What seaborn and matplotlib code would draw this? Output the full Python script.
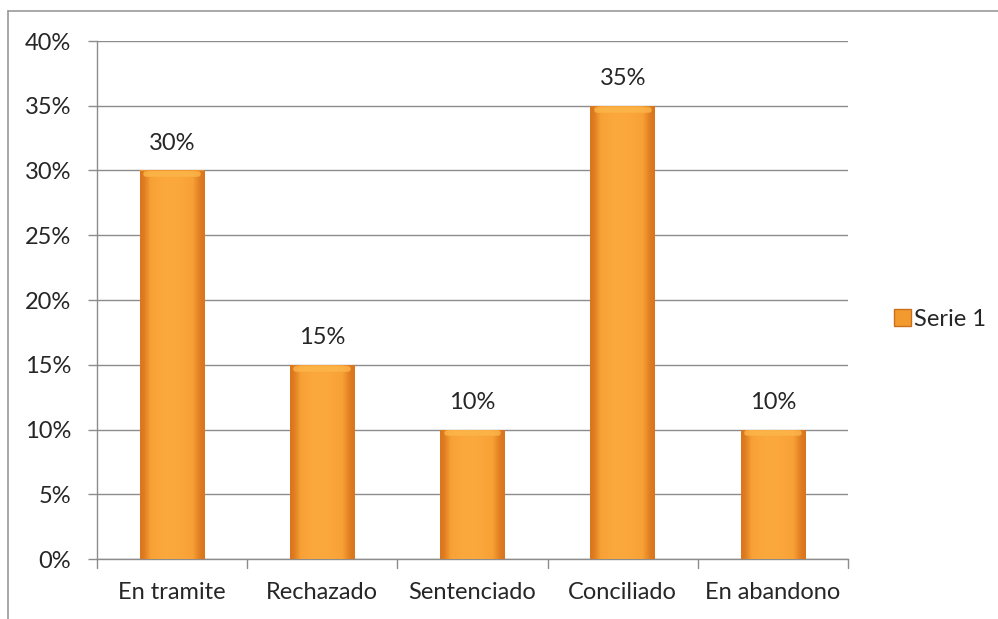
import numpy as np
import pandas as pd
import matplotlib
matplotlib.use("Agg")
import matplotlib.pyplot as plt
import seaborn as sns
from matplotlib.lines import Line2D
from matplotlib.patches import Patch
from matplotlib.colors import LinearSegmentedColormap

categories = ["En tramite", "Rechazado", "Sentenciado", "Conciliado", "En abandono"]
values = [30, 15, 10, 35, 10]
series_name = "Serie 1"
yticks = [0, 5, 10, 15, 20, 25, 30, 35, 40]

sns.set_style("white")
plt.rcParams["font.family"] = ["Lato", "DejaVu Sans"]
FS = 17

df = pd.DataFrame({"cat": categories, "val": values})

fig = plt.figure(figsize=(9.98, 6.19), dpi=100)
ax = fig.add_axes([97/998, 1-559/619, (848-97)/998, (559-41)/619])

sns.barplot(data=df, x="cat", y="val", color="#F39A2E", width=0.43,
            saturation=1, ax=ax, edgecolor="none", zorder=3)

# horizontal gradient inside bars
grad = np.array([[0.0, 0.55, 0.85, 1.0, 1.0, 0.9, 0.75, 0.45, 0.0]])
cmap = LinearSegmentedColormap.from_list("o", ["#D9741C", "#F7A035", "#FBA83C"])
for p in ax.patches:
    x0, y0 = p.get_x(), p.get_y()
    w, h = p.get_width(), p.get_height()
    im = ax.imshow(grad, extent=[x0, x0 + w, y0, y0 + h], aspect="auto",
                   cmap=cmap, vmin=0, vmax=1, zorder=4, interpolation="bicubic")
    im.set_clip_path(p)
    ax.plot([x0 + w*0.1, x0 + w*0.9], [y0 + h - 0.3, y0 + h - 0.3],
            color="#FCB64A", lw=4, zorder=5, solid_capstyle="round", alpha=0.8)

ax.set_xlim(-0.5, len(categories) - 0.5)
ax.set_ylim(0, 40)
ax.set_yticks(yticks)
ax.set_yticklabels([f"{t}%" for t in yticks], fontsize=FS)
ax.set_xticks(range(len(categories)))
ax.set_xticklabels(categories, fontsize=FS)
ax.set_xlabel("")
ax.set_ylabel("")
ax.yaxis.grid(True, color="#8C8C8C", lw=1)
ax.set_axisbelow(True)
for s in ["top", "right"]:
    ax.spines[s].set_visible(False)
for s in ["left", "bottom"]:
    ax.spines[s].set_color("#8C8C8C")
    ax.spines[s].set_linewidth(1)
ax.tick_params(axis="y", left=True, length=6.5, color="#8C8C8C", width=1, pad=12)
ax.tick_params(axis="x", bottom=False, pad=13)
for b in np.arange(-0.5, len(categories), 1.0):
    ax.plot([b, b], [0, -0.7], color="#8C8C8C", lw=1, clip_on=False, zorder=2)

for i, v in enumerate(values):
    ax.text(i, v + 1.3, f"{v}%", ha="center", va="bottom", fontsize=FS, zorder=6)

handle = Patch(facecolor="#F39A2E", edgecolor="#C8701E")
fig.legend([handle], [series_name], loc="center left",
           bbox_to_anchor=(894/998, 1-319/619), frameon=False, fontsize=FS,
           handlelength=0.7, handleheight=0.7, handletextpad=0.15,
           borderpad=0, borderaxespad=0)

fig.add_artist(Line2D([8/998, 1], [1-11/619, 1-11/619], color="#9A9A9A", lw=1.2))
fig.add_artist(Line2D([8/998, 8/998], [0, 1-11/619], color="#9A9A9A", lw=1.2))

fig.savefig("out.png", dpi=100)
